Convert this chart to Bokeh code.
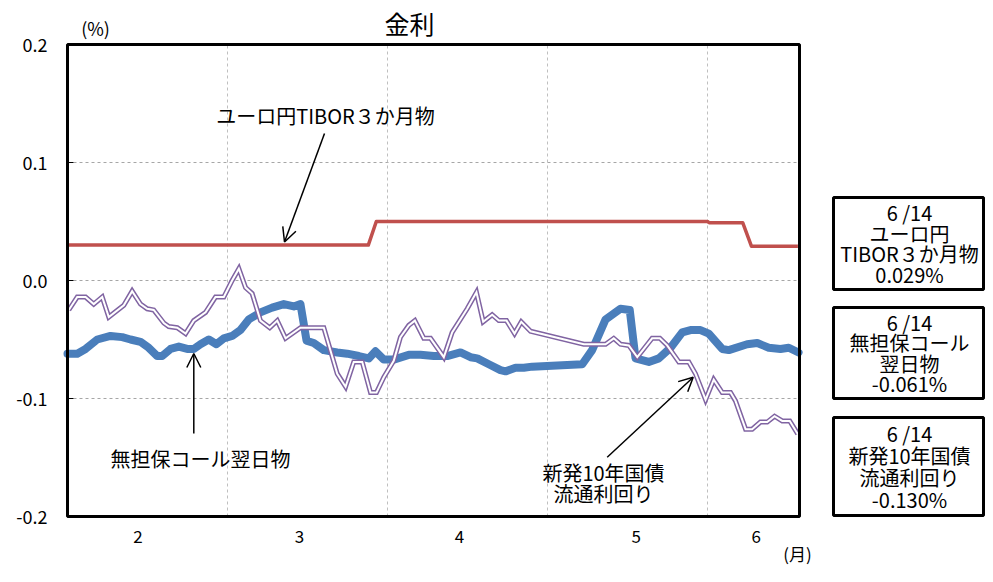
from bokeh.plotting import figure
from bokeh.models import (Range1d, FixedTicker, PrintfTickFormatter, Label, Arrow,
                          OpenHead, LinearAxis)
from bokeh.embed import file_html
from bokeh.resources import INLINE
from bokeh.core.properties import value

FONT = "Noto Sans CJK JP"

# ---------------- data ----------------
# time axis: months elapsed since 1 February (each month = 1 unit)
month_labels = ["2", "3", "4", "5", "6"]

tibor_t = [0.005, 1.88, 1.93, 4.00, 4.01, 4.22, 4.275, 4.565]
tibor_v = [0.030, 0.030, 0.050, 0.050, 0.049, 0.049, 0.029, 0.029]

call_t = [0.0, 0.061, 0.113, 0.186, 0.269, 0.342, 0.394, 0.456, 0.508, 0.561,
          0.592, 0.644, 0.696, 0.748, 0.789, 0.831, 0.883, 0.931, 0.977, 1.029,
          1.081, 1.133, 1.206, 1.279, 1.352, 1.414, 1.456, 1.494, 1.539, 1.602,
          1.686, 1.748, 1.821, 1.883, 1.925, 1.977, 2.039, 2.133, 2.206, 2.289,
          2.373, 2.456, 2.519, 2.561, 2.633, 2.706, 2.738, 2.8, 2.852, 2.904,
          3.217, 3.279, 3.363, 3.456, 3.514, 3.55, 3.633, 3.696, 3.769, 3.842,
          3.894, 3.956, 4.008, 4.092, 4.133, 4.248, 4.311, 4.383, 4.456, 4.508,
          4.569]
call_v = [-0.062, -0.062, -0.058, -0.050, -0.047, -0.048, -0.050, -0.052, -0.057, -0.064,
          -0.064, -0.058, -0.056, -0.058, -0.058, -0.054, -0.050, -0.054, -0.049, -0.047,
          -0.042, -0.033, -0.027, -0.023, -0.020, -0.022, -0.020, -0.051, -0.053, -0.059,
          -0.061, -0.062, -0.064, -0.066, -0.060, -0.067, -0.067, -0.063, -0.063, -0.064,
          -0.064, -0.061, -0.065, -0.066, -0.071, -0.076, -0.077, -0.074, -0.074, -0.073,
          -0.071, -0.059, -0.033, -0.024, -0.025, -0.066, -0.069, -0.066, -0.057, -0.044,
          -0.042, -0.042, -0.045, -0.058, -0.059, -0.054, -0.053, -0.057, -0.058, -0.057,
          -0.061]

jgb_t = [0.008, 0.061, 0.113, 0.164, 0.217, 0.258, 0.352, 0.404, 0.456, 0.498,
         0.539, 0.602, 0.633, 0.686, 0.738, 0.789, 0.863, 0.925, 0.977, 1.029,
         1.071, 1.113, 1.154, 1.206, 1.264, 1.311, 1.363, 1.456, 1.602, 1.686,
         1.738, 1.789, 1.842, 1.894, 1.931, 1.977, 2.039, 2.081, 2.133, 2.171,
         2.227, 2.269, 2.352, 2.404, 2.498, 2.556, 2.598, 2.654, 2.696, 2.744,
         2.794, 2.836, 2.894, 3.227, 3.363, 3.414, 3.456, 3.508, 3.561, 3.654,
         3.702, 3.748, 3.821, 3.883, 3.925, 3.988, 4.039, 4.092, 4.144, 4.175,
         4.238, 4.279, 4.331, 4.373, 4.419, 4.467, 4.514, 4.564]
jgb_v = [-0.025, -0.014, -0.014, -0.020, -0.014, -0.031, -0.021, -0.009, -0.020, -0.024,
         -0.025, -0.036, -0.039, -0.040, -0.045, -0.034, -0.027, -0.014, -0.014, 0.000,
         0.010, -0.006, -0.011, -0.034, -0.040, -0.034, -0.049, -0.040, -0.040, -0.079,
         -0.090, -0.069, -0.069, -0.095, -0.095, -0.082, -0.068, -0.048, -0.038, -0.034,
         -0.049, -0.049, -0.065, -0.044, -0.024, -0.010, -0.035, -0.029, -0.034, -0.034,
         -0.045, -0.035, -0.043, -0.054, -0.054, -0.049, -0.054, -0.055, -0.065, -0.049,
         -0.049, -0.055, -0.069, -0.069, -0.079, -0.101, -0.084, -0.095, -0.095, -0.102,
         -0.126, -0.126, -0.120, -0.120, -0.115, -0.119, -0.119, -0.130]

last_date = "6 /14"
series_names = ["ユーロ円TIBOR３か月物", "無担保コール翌日物", "新発10年国債流通利回り"]
box_names = [["ユーロ円", "TIBOR３か月物"], ["無担保コール", "翌日物"], ["新発10年国債", "流通利回り"]]
y_ticks = [-0.2, -0.1, 0.0, 0.1, 0.2]
x_min, x_max = 0.0, 4.575          # visible time span of the chart area
y_min, y_max = -0.2, 0.2

# ---------------- layout helpers (pixel -> data, for annotations only) ----------------
W, H = 985, 566
X0_PX, PX_PER_MONTH = 67, 160.0
Y0_PX, PX_PER_UNIT = 280, 1180.0


def tx(px):
    return (px - X0_PX) / PX_PER_MONTH


def vy(py):
    return (Y0_PX - py) / PX_PER_UNIT


RED = "#C0504D"
BLUE = "#4A7EBB"
PURPLE = "#8064A2"

p = figure(width=W, height=H, output_backend="svg", toolbar_location=None, title=None,
           x_range=Range1d(tx(0), tx(W)), y_range=Range1d(vy(H), vy(0)), min_border=0)
p.background_fill_color = "white"
p.border_fill_color = "white"
p.outline_line_color = None
p.grid.visible = False

# y axis, pinned to the left edge of the chart area
p.yaxis.fixed_location = x_min
p.yaxis.ticker = FixedTicker(ticks=y_ticks)
p.yaxis.formatter = PrintfTickFormatter(format="%.1f")
p.yaxis.major_label_text_font = FONT
p.yaxis.major_label_text_font_size = "18px"
p.yaxis.major_label_text_color = "black"
p.yaxis.major_label_standoff = 20
p.yaxis.major_tick_in = 6
p.yaxis.major_tick_out = 0
p.yaxis.major_tick_line_color = "black"
p.yaxis.major_tick_line_width = 1
p.yaxis.minor_tick_line_color = None
p.yaxis.axis_line_color = None

# x axis (month labels), pinned to the bottom of the chart area
ax1 = p.xaxis[0]
ax1.fixed_location = y_min
label_pos = [0.44, 1.45, 2.45, 3.555, 4.305]
ax1.ticker = FixedTicker(ticks=label_pos)
ax1.major_label_overrides = {pos: lab for pos, lab in zip(label_pos, month_labels)}
ax1.major_label_text_font = FONT
ax1.major_label_text_font_size = "17px"
ax1.major_label_text_color = "black"
ax1.major_label_standoff = 7
ax1.major_tick_line_color = None
ax1.minor_tick_line_color = None
ax1.axis_line_color = None

# second x axis carrying the unit "(月)"
unit_pos = tx(797)
ax2 = LinearAxis(fixed_location=y_min, ticker=FixedTicker(ticks=[unit_pos]),
                 major_label_overrides={unit_pos: "(月)"},
                 major_label_text_font=FONT, major_label_text_font_size="17px",
                 major_label_text_color="black", major_label_standoff=18,
                 major_tick_line_color=None, minor_tick_line_color=None, axis_line_color=None)
p.add_layout(ax2, "below")

# grid lines (dashed), restricted to the chart area
grid_v = [-0.1, 0.0, 0.1]
grid_t = [1, 2, 3, 4]
p.segment(x0=[x_min] * 3, x1=[x_max] * 3, y0=grid_v, y1=grid_v,
          line_color="#A6A6A6", line_dash="3 3", line_width=1)
p.segment(x0=grid_t, x1=grid_t, y0=[y_min] * 4, y1=[y_max] * 4,
          line_color="#BFBFBF", line_dash="3 3", line_width=1)

# series
p.line(tibor_t, tibor_v, line_color=RED, line_width=3.5, line_join="round")
p.line(call_t, call_v, line_color=BLUE, line_width=8, line_join="round", line_cap="round")
p.line(jgb_t, jgb_v, line_color=PURPLE, line_width=5, line_join="miter")
p.line(jgb_t, jgb_v, line_color="white", line_width=2, line_join="miter")

# chart area border
p.quad(left=[x_min], right=[x_max], top=[y_max], bottom=[y_min],
       fill_color=None, line_color="black", line_width=3)


def lab(px, py, text, size="20px"):
    p.add_layout(Label(x=tx(px), y=vy(py), text=text, text_font=FONT, text_font_size=size,
                       text_align="center", text_baseline="middle", text_color="black"))


lab(409, 22, "金利", size="25px")
lab(95, 27, "(%)", size="18px")
lab(325, 115, series_names[0])
lab(200, 458, series_names[1])
lab(603, 472, "新発10年国債")
lab(603, 493, "流通利回り")

for xs, ys, xe, ye in [(324, 133, 284, 241.5),
                       (193.3, 433, 193.3, 353),
                       (606.7, 456.7, 692.7, 376.7)]:
    p.add_layout(Arrow(end=OpenHead(size=14, line_width=1.5, line_color="black"),
                       x_start=tx(xs), y_start=vy(ys), x_end=tx(xe), y_end=vy(ye),
                       line_width=1.5, line_color="black"))

# ---------------- right-hand value boxes ----------------
last_vals = [tibor_v[-1], call_v[-1], jgb_v[-1]]
box_left, box_right = 833, 983
box_tops = [197, 307, 417]
box_bottoms = [289, 398, 515]
p.quad(left=[tx(box_left)] * 3, right=[tx(box_right)] * 3,
       top=[vy(t) for t in box_tops], bottom=[vy(b) for b in box_bottoms],
       fill_color="white", line_color="black", line_width=3)

bx, by, bt = [], [], []
for top, bottom, names, v in zip(box_tops, box_bottoms, box_names, last_vals):
    lines = [last_date] + names + [f"{v:.3f}%"]
    step = (bottom - top - 10) / len(lines)
    for i, s in enumerate(lines):
        bx.append(tx((box_left + box_right) / 2 + 1))
        by.append(vy(top + 5 + step * (i + 0.5)))
        bt.append(s)
p.text(x=bx, y=by, text=bt, text_font=value(FONT), text_font_size="20px",
       text_align="center", text_baseline="middle", text_color="black")

open("out.html", "w").write(file_html(p, INLINE))
